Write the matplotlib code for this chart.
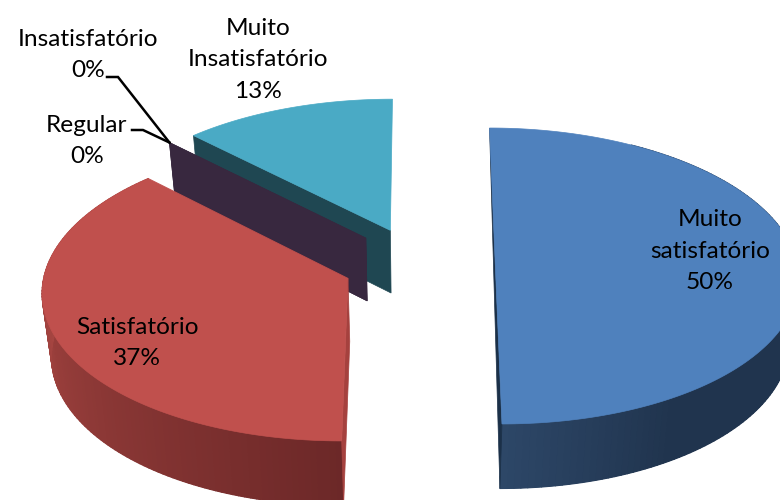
import numpy as np
import matplotlib
matplotlib.use("Agg")
import matplotlib.pyplot as plt
from matplotlib.collections import PolyCollection

plt.rcParams['font.family'] = ['Lato', 'DejaVu Sans']

# data, clockwise from the top of the pie
categories = ['Muito\nsatisfatório', 'Satisfatório', 'Regular', 'Insatisfatório', 'Muito\nInsatisfatório']
shares = [50, 37.5, 0, 0, 12.5]
pct_labels = ['50%', '37%', '0%', '0%', '13%']

top_colors = ['#4F81BD', '#C0504D', '#38283F', '#38283F', '#4AAAC5']
wall_colors = ['#1B3048', '#A5413E', '#38283F', '#38283F', '#1F4752']

# projection of the tilted pie, in pixels
x0, y0 = 419, 264
rx, ry = 302, 147
persp = 0.081     # back of pie is smaller than the front
depth = 63        # thickness
shrink = 0.025    # underside is slightly further away
explode = 0.2525


def project(u, v, z=0.0):
    s = 1 / (1 + persp * v)
    f = 1 - shrink * z
    x = x0 + rx * u * s * f
    y = y0 - ry * v * s * f + depth * z * s
    return x, y


def rim(th, off, z=0.0):
    return project(off[0] + np.sin(th), off[1] + np.cos(th), z)


def mix(c1, c2, t):
    return tuple((np.array(c1) + (np.array(c2) - np.array(c1)) * t) / 255)


def outer_wall(ax, a0, a1, off, color_at):
    ths = np.linspace(a0, a1, 121)
    # one solid piece under the strips so nothing white leaks through
    xt, yt = rim(ths, off)
    xb, yb = rim(ths, off, 1)
    ax.fill(np.r_[xt, xb[::-1]], np.r_[yt, yb[::-1]], color=color_at(np.degrees((a0 + a1) / 2)), lw=0)
    polys, cols = [], []
    for p, q in zip(ths[:-1], ths[1:]):
        x1, y1 = rim(p, off)
        x2, y2 = rim(q, off)
        x3, y3 = rim(q, off, 1)
        x4, y4 = rim(p, off, 1)
        polys.append([(x1, y1), (x2, y2), (x3, y3), (x4, y4)])
        cols.append(color_at(np.degrees((p + q) / 2)))
    ax.add_collection(PolyCollection(polys, facecolors=cols, edgecolors=cols, linewidths=0.8))


def cut_wall(ax, th, off, color):
    pts = [project(off[0], off[1]), rim(th, off), rim(th, off, 1), project(off[0], off[1], 1)]
    ax.fill([p[0] for p in pts], [p[1] for p in pts], color=color, lw=0.5)


def top_face(ax, a0, a1, off, color):
    ths = np.linspace(a0, a1, 200)
    xs, ys = rim(ths, off)
    cx, cy = project(off[0], off[1])
    ax.fill(np.r_[cx, xs], np.r_[cy, ys], color=color, lw=0.5)


def blue_side(deg):
    t = np.clip((180 - deg) / 32, 0, 1)
    return mix((45, 71, 103), (32, 52, 78), t)


def red_side(deg):
    t = np.clip((deg - 180) / 95, 0, 1)
    return mix((108, 40, 40), (168, 70, 66), t)


fig = plt.figure(figsize=(7.8, 5), dpi=100)
ax = fig.add_axes([0, 0, 1, 1])
ax.set_xlim(0, 780)
ax.set_ylim(500, 0)
ax.axis('off')

edges = np.r_[0, np.cumsum(shares)] / np.sum(shares) * 2 * np.pi
offsets = []
for i in range(len(shares)):
    mid = (edges[i] + edges[i + 1]) / 2
    offsets.append((explode * np.sin(mid), explode * np.cos(mid)))

# painter's order, back slices first
# teal
cut_wall(ax, edges[4], offsets[4], wall_colors[4])
top_face(ax, edges[4], edges[5], offsets[4], top_colors[4])
# the two empty slices only show up as one wall
cut_wall(ax, edges[3], offsets[3], wall_colors[3])
cut_wall(ax, edges[2], offsets[2], wall_colors[2])
# red
outer_wall(ax, edges[1], edges[2], offsets[1], red_side)
cut_wall(ax, edges[1], offsets[1], wall_colors[1])
top_face(ax, edges[1], edges[2], offsets[1], top_colors[1])
# blue, left wall is only a thin sliver running down from the back corner
outer_wall(ax, edges[0] + np.radians(30), edges[1], offsets[0], blue_side)
sl = [rim(edges[0], offsets[0]), rim(edges[1], offsets[0]), rim(edges[1], offsets[0], 1)]
ax.fill([p[0] for p in sl], [p[1] for p in sl], color=wall_colors[0], lw=0.5)
top_face(ax, edges[0], edges[1], offsets[0], top_colors[0])

# labels
fs = 17.6
ls = 1.64
label_pos = [(710, 251), (137, 343), (87, 141), (88, 55), (258, 60)]
for i, (px, py) in enumerate(label_pos):
    ax.text(px, py, categories[i] + '\n' + pct_labels[i], ha='center', va='center',
            fontsize=fs, linespacing=ls, color='black', zorder=10)

# leader lines for the two empty slices
tipx, tipy = rim(edges[2], offsets[2])
ax.plot([107, 118, tipx], [77, 77, tipy], color='black', lw=1.8, solid_joinstyle='miter', zorder=9)
ax.plot([132, 143, tipx], [130, 130, tipy], color='black', lw=1.8, solid_joinstyle='miter', zorder=9)

fig.savefig('out.png', dpi=100)
